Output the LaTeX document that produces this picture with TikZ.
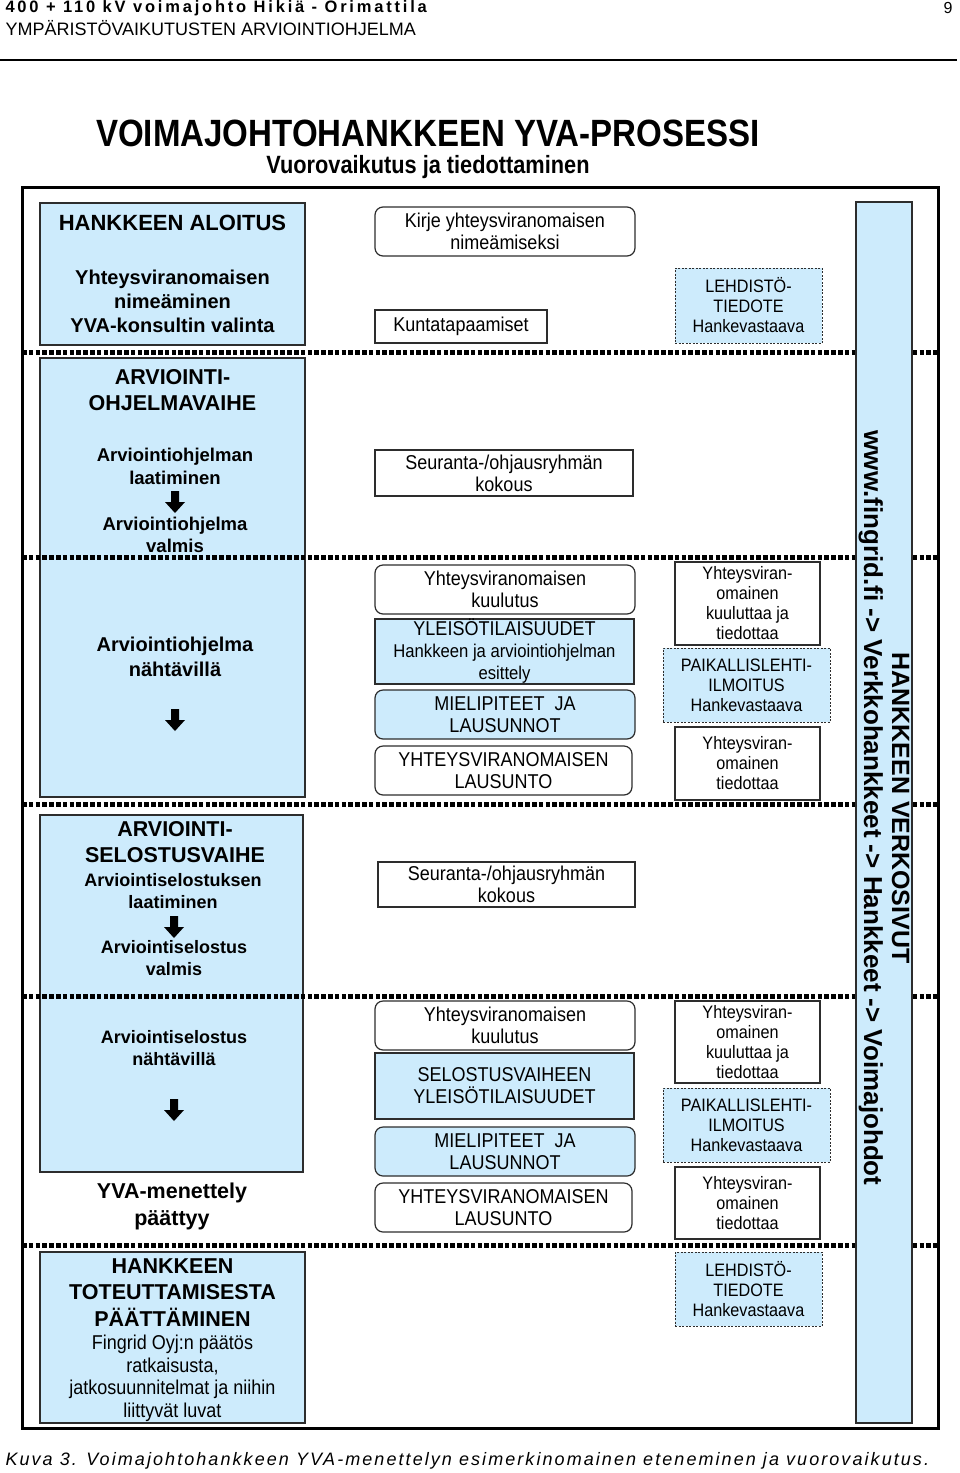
\documentclass[tikz,border=0pt]{standalone}
\usepackage{fontspec}
\setmainfont{Liberation Sans}
\newfontfamily\narrowfont[FakeStretch=0.9]{Liberation Sans}
\newfontfamily\titlefont[FakeStretch=0.87]{Liberation Sans}
\newfontfamily\headfont[LetterSpace=17]{Liberation Sans}
\newfontfamily\capfont[LetterSpace=11.5]{Liberation Sans}
\usetikzlibrary{positioning}
\definecolor{paleblue}{RGB}{205,235,252}
\definecolor{linegray}{RGB}{45,45,45}
\tikzset{
  phase/.style={draw=linegray,line width=1.4pt,fill=paleblue},
  infobox/.style={draw=linegray,line width=1.2pt,fill=white,align=center,inner sep=0pt,
    font=\narrowfont\fontsize{20}{22}\selectfont},
  roundbox/.style={infobox,rounded corners=8pt},
  bluebox/.style={infobox,fill=paleblue},
  notebox/.style={infobox,font=\narrowfont\fontsize{18}{20}\selectfont},
  pressbox/.style={notebox,fill=paleblue,dash pattern=on 2pt off 1.5pt,line width=0.9pt},
  divider/.style={line width=5pt,dash pattern=on 4.5pt off 2.3pt},
  stagetxt/.style={font=\bfseries\fontsize{21.5}{26.5}\selectfont,align=center},
  phasetxt/.style={font=\bfseries\fontsize{18}{22.5}\selectfont,align=center},
  pics/downarrow/.style={code={
    \fill (-4,-11) -- (4,-11) -- (4,0) -- (10,0) -- (0,11) -- (-10,0) -- (-4,0) -- cycle;}}
}
\begin{document}
\begin{tikzpicture}[x=1pt,y=-1pt]
  \useasboundingbox (0,0) rectangle (960,1473);
  % page header
  \node[anchor=west,font=\headfont\bfseries\fontsize{16.5}{18}\selectfont] (hdrA) at (2,8) {400 + 110 kV voimajohto Hikiä - Orimattila};
  \node[anchor=west,font=\fontsize{18}{19}\selectfont] (hdrB) at (2,28) {YMPÄRISTÖVAIKUTUSTEN ARVIOINTIOHJELMA};
  \node[font=\fontsize{16}{18}\selectfont] (pagenum) at (948,8) {9};
  \draw[line width=1.8pt] (0,60) -- (957,60);
  % title
  \node[font=\titlefont\bfseries\fontsize{38}{40}\selectfont] (title) at (428,133) {VOIMAJOHTOHANKKEEN YVA-PROSESSI};
  \node[font=\titlefont\bfseries\fontsize{25}{27}\selectfont] (subtitle) at (428,167) {Vuorovaikutus ja tiedottaminen};

  % left column: phases
  \draw[phase] (40,203) rectangle (305,345);
  \node[font=\bfseries\fontsize{22}{26}\selectfont] (startA) at (172.5,223) {HANKKEEN ALOITUS};
  \node[stagetxt,font=\bfseries\fontsize{20}{24}\selectfont] (startB) at (172.5,301) {Yhteysviranomaisen\\nimeäminen\\YVA-konsultin valinta};

  \draw[phase] (40,358) rectangle (305,797);
  \node[stagetxt,font=\bfseries\fontsize{21.5}{26}\selectfont] (progA) at (172.5,390) {ARVIOINTI-\\OHJELMAVAIHE};
  \node[phasetxt,font=\bfseries\fontsize{18.5}{23}\selectfont] (progB) at (175,466.5) {Arviointiohjelman\\laatiminen};
  \pic (progarrA) at (175,502) {downarrow};
  \node[phasetxt,font=\bfseries\fontsize{18.5}{22}\selectfont] (progC) at (175,535) {Arviointiohjelma\\valmis};
  \node[phasetxt,font=\bfseries\fontsize{20}{25}\selectfont] (progD) at (175,656.5) {Arviointiohjelma\\nähtävillä};
  \pic (progarrB) at (175,720) {downarrow};

  \draw[phase] (40,815) rectangle (303,1172);
  \node[stagetxt,font=\bfseries\fontsize{21.5}{26}\selectfont] (repA) at (175,842) {ARVIOINTI-\\SELOSTUSVAIHE};
  \node[phasetxt] (repB) at (173,891) {Arviointiselostuksen\\laatiminen};
  \pic (reparrA) at (174,927) {downarrow};
  \node[phasetxt] (repC) at (174,958) {Arviointiselostus\\valmis};
  \node[phasetxt] (repD) at (174,1048) {Arviointiselostus\\nähtävillä};
  \pic (reparrB) at (174,1110) {downarrow};
  \node[stagetxt,font=\bfseries\fontsize{21.5}{27}\selectfont] (yvaend) at (172,1206.5) {YVA-menettely\\päättyy};

  \draw[phase] (40,1252) rectangle (305,1423);
  \node[stagetxt] (decA) at (172.5,1292.5) {HANKKEEN\\TOTEUTTAMISESTA\\PÄÄTTÄMINEN};
  \node[align=center,font=\narrowfont\fontsize{20}{22.5}\selectfont] (decB) at (172.5,1378.5) {Fingrid Oyj:n päätös\\ratkaisusta,\\jatkosuunnitelmat ja niihin\\liittyvät luvat};

  % dotted phase dividers
  \foreach \y in {352,557,804,996,1245}
    \draw[divider] (22,\y) -- (938,\y);

  % web pages bar
  \node[phase,minimum width=56pt,minimum height=1221pt,inner sep=0pt] (webbar) at (884,812.5) {};
  \node[rotate=-90,align=center,font=\bfseries\fontsize{25}{28}\selectfont] (webtext) at (884,808) {HANKKEEN VERKOSIVUT\\{\fontsize{26}{28}\selectfont www.fingrid.fi -> Verkkohankkeet -> Hankkeet -> Voimajohdot}};

  % middle column
  \node[roundbox,minimum width=260pt,minimum height=49pt] (kirje) at (505,231.5) {Kirje yhteysviranomaisen\\nimeämiseksi};
  \node[infobox,minimum width=172pt,minimum height=33pt] (kunta) at (461,326.5) {Kuntatapaamiset};
  \node[infobox,minimum width=258pt,minimum height=46pt] (seurA) at (504,473) {Seuranta-/ohjausryhmän\\kokous};
  \node[roundbox,minimum width=260pt,minimum height=49pt] (kuulA) at (505,589.5) {Yhteysviranomaisen\\kuulutus};
  \node[bluebox,minimum width=259pt,minimum height=65pt] (yleisoA) at (504.5,651.5) {YLEISÖTILAISUUDET\\{\fontsize{18.5}{20}\selectfont Hankkeen ja arviointiohjelman}\\{\fontsize{18.5}{20}\selectfont esittely}};
  \node[roundbox,fill=paleblue,minimum width=260pt,minimum height=49pt] (mielA) at (505,714.5) {MIELIPITEET \ JA\\LAUSUNNOT};
  \node[roundbox,minimum width=257pt,minimum height=49pt] (lausA) at (503.5,770.5) {YHTEYSVIRANOMAISEN\\LAUSUNTO};
  \node[infobox,minimum width=257pt,minimum height=45pt] (seurB) at (506.5,884.5) {Seuranta-/ohjausryhmän\\kokous};
  \node[roundbox,minimum width=260pt,minimum height=49pt] (kuulB) at (505,1025.5) {Yhteysviranomaisen\\kuulutus};
  \node[bluebox,minimum width=259pt,minimum height=66pt] (yleisoB) at (504.5,1086) {SELOSTUSVAIHEEN\\YLEISÖTILAISUUDET};
  \node[roundbox,fill=paleblue,minimum width=260pt,minimum height=49pt] (mielB) at (505,1151.5) {MIELIPITEET \ JA\\LAUSUNNOT};
  \node[roundbox,minimum width=257pt,minimum height=49pt] (lausB) at (503.5,1207.5) {YHTEYSVIRANOMAISEN\\LAUSUNTO};

  % right column
  \node[pressbox,minimum width=147pt,minimum height=75pt] (pressA) at (748.5,305.5) {LEHDISTÖ-\\TIEDOTE\\Hankevastaava};
  \node[notebox,minimum width=145pt,minimum height=83pt] (tiedA) at (747.5,603.5) {Yhteysviran-\\omainen\\kuuluttaa ja\\tiedottaa};
  \node[pressbox,minimum width=167pt,minimum height=74pt] (paikA) at (746.5,685) {PAIKALLISLEHTI-\\ILMOITUS\\Hankevastaava};
  \node[notebox,minimum width=145pt,minimum height=73pt] (tiedB) at (747.5,763.5) {Yhteysviran-\\omainen\\tiedottaa};
  \node[notebox,minimum width=145pt,minimum height=82pt] (tiedC) at (747.5,1042) {Yhteysviran-\\omainen\\kuuluttaa ja\\tiedottaa};
  \node[pressbox,minimum width=167pt,minimum height=74pt] (paikB) at (746.5,1125) {PAIKALLISLEHTI-\\ILMOITUS\\Hankevastaava};
  \node[notebox,minimum width=145pt,minimum height=72pt] (tiedD) at (747.5,1203) {Yhteysviran-\\omainen\\tiedottaa};
  \node[pressbox,minimum width=147pt,minimum height=74pt] (pressB) at (748.5,1289) {LEHDISTÖ-\\TIEDOTE\\Hankevastaava};

  % frame and caption
  \draw[line width=3pt] (22,187) rectangle (938,1428);
  \node[anchor=west,font=\capfont\itshape\fontsize{18}{20}\selectfont] (caption) at (2,1461) {Kuva 3. Voimajohtohankkeen YVA-menettelyn esimerkinomainen eteneminen ja vuorovaikutus.};
\end{tikzpicture}
\end{document}
